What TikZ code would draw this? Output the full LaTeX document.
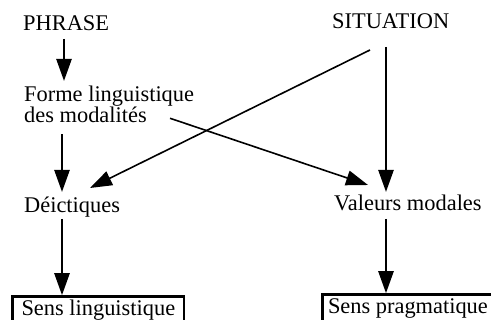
\documentclass[tikz,border=0pt]{standalone}
\usepackage{fontspec}
\setmainfont{Liberation Serif}
\usetikzlibrary{arrows.meta}
\begin{document}
\begin{tikzpicture}[x=1pt,y=-1pt,
  lbl/.style={inner sep=0pt, anchor=base west, font=\fontsize{22.4}{20}\selectfont},
  boxed/.style={draw, line width=2.5pt, inner xsep=9pt, inner ysep=4.5pt, text height=15pt, text depth=8pt, anchor=north west, font=\fontsize{22.4}{20}\selectfont},
  thick arrow/.style={line width=2.5pt, -{Triangle[length=22pt,width=15pt]}},
  thin arrow/.style={line width=1.6pt, -{Triangle[length=22pt,width=15pt]}}]
\useasboundingbox (0,0) rectangle (491,320);
\clip (0,0) rectangle (491,320);
\node[lbl] (phrase) at (23,31) {PHRASE};
\node[lbl] (situation) at (332,29) {SITUATION};
\node[lbl, align=left, anchor=north west] (forme) at (24,85.7) {Forme linguistique\\des modalités};
\node[lbl] (deict) at (24,213) {Déictiques};
\node[lbl] (valeurs) at (334,211) {Valeurs modales};
\node[boxed] (sensl) at (11.25,295.25) {Sens linguistique};
\node[boxed, inner xsep=5.5pt] (sensp) at (321.25,293.25) {Sens pragmatique};
\draw[thick arrow] ([xshift=41pt,yshift=-8pt]phrase.base west) -- ([xshift=40pt,yshift=4.7pt]forme.north west);
\draw[thick arrow] ([xshift=38pt,yshift=-11pt]forme.south west) -- ([xshift=38pt,yshift=21pt]deict.base west);
\draw[thin arrow] ([xshift=146pt,yshift=5pt]forme.south west) -- ([xshift=34pt,yshift=26pt]valeurs.base west);
\draw[thick arrow] ([xshift=54pt,yshift=-18pt]situation.base west) -- ([xshift=52pt,yshift=19pt]valeurs.base west);
\draw[thin arrow] ([xshift=38pt,yshift=-21pt]situation.base west) -- ([xshift=66pt,yshift=25pt]deict.base west);
\draw[thick arrow] ([xshift=38pt,yshift=-6pt]deict.base west) -- (sensl.north west -| {62,0});
\draw[thick arrow] ([xshift=52pt,yshift=-8pt]valeurs.base west) -- (sensp.north west -| {386,0});
\end{tikzpicture}
\end{document}
